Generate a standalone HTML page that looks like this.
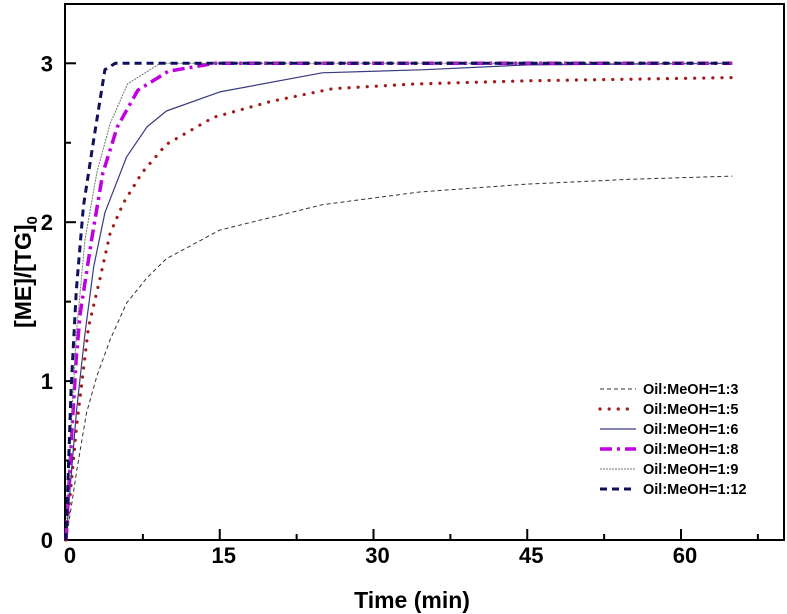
<!DOCTYPE html>
<html><head><meta charset="utf-8"><style>
html,body{margin:0;padding:0;background:#fff;}
svg{display:block;font-family:"Liberation Sans",Arial,sans-serif;}
</style></head><body>
<svg id="chart" width="787" height="614" viewBox="0 0 787 614" xmlns="http://www.w3.org/2000/svg">
<rect x="65" y="4" width="719" height="536" fill="none" stroke="#000" stroke-width="2"/>
<g id="axes"></g>
<g id="series"></g>
<g id="legend"></g>
<text x="412" y="608" text-anchor="middle" font-size="23" font-weight="bold">Time (min)</text>
<text transform="translate(31,272) rotate(-90)" text-anchor="middle" font-size="23" font-weight="bold">[ME]/[TG]<tspan font-size="15" dy="6">0</tspan></text>
</svg>
<script>
const xTicks = [0, 15, 30, 45, 60];
const xMinor = [7.5, 22.5, 37.5, 52.5, 67.5];
const yTicks = [0, 1, 2, 3];
const yMinor = [0.5, 1.5, 2.5];
const seriesNames = ["Oil:MeOH=1:3","Oil:MeOH=1:5","Oil:MeOH=1:6","Oil:MeOH=1:8","Oil:MeOH=1:9","Oil:MeOH=1:12"];
const t13 = [0,0.5,1,2,3,4.3,5.9,7.9,9.8,15,25,34.5,45,55,65];
const v13 = [0,0.2,0.42,0.8,1.03,1.26,1.49,1.65,1.77,1.95,2.11,2.19,2.24,2.27,2.29];
const t15 = [0,0.5,1,2.2,3.3,4.3,5.6,7.4,9.8,14.4,20,26,34,45,65];
const v15 = [0,0.35,0.7,1.34,1.64,1.93,2.12,2.31,2.49,2.66,2.76,2.84,2.87,2.89,2.91];
const t16 = [0,0.5,1,1.85,2.7,3.8,5.9,7.9,9.8,15,25,35,45,65];
const v16 = [0,0.4,0.8,1.3,1.72,2.06,2.41,2.6,2.7,2.82,2.94,2.96,2.99,3.0];
const t18 = [0,0.5,1,1.4,2.5,3.6,5,7,10,14.5,65];
const v18 = [0,0.6,1.15,1.43,1.89,2.31,2.6,2.83,2.95,3.0,3.0];
const t19 = [0,0.5,1,1.4,1.85,3,4.3,6,9.2,65];
const v19 = [0,0.7,1.3,1.57,1.89,2.31,2.62,2.87,3.0,3.0];
const t112 = [0,0.5,1,1.7,2.7,3.8,4.8,65];
const v112 = [0,0.95,1.57,2.1,2.52,2.96,3.0,3.0];

const NS = "http://www.w3.org/2000/svg";
const X0 = 66, XS = 10.25, Y0 = 540, YS = 158.9;
function xs(v){return X0 + v*XS;}
function ys(v){return Y0 - v*YS;}
function mk(tag, attrs, parent){const e=document.createElementNS(NS,tag);for(const k in attrs)e.setAttribute(k,attrs[k]);parent.appendChild(e);return e;}
const axes = document.getElementById('axes');
xTicks.forEach(t=>{
  const l = mk('line',{x1:xs(t),x2:xs(t),y1:540,y2:529,stroke:'#000','stroke-width':2},axes);
  
  
  const tx = mk('text',{x:xs(t)+4,y:563,'text-anchor':'middle','font-size':22,'font-weight':'bold'},axes);
  tx.textContent = t;
  
  
});
xMinor.forEach(t=>{
  const l = mk('line',{x1:xs(t),x2:xs(t),y1:540,y2:534,stroke:'#000','stroke-width':2},axes);
  
  
});
yTicks.forEach(v=>{
  const l = mk('line',{x1:65,x2:76,y1:ys(v),y2:ys(v),stroke:'#000','stroke-width':2},axes);
  
  
  const tx = mk('text',{x:53,y:ys(v)+8,'text-anchor':'end','font-size':22,'font-weight':'bold'},axes);
  tx.textContent = v;
  
  
});
yMinor.forEach(v=>{
  const l = mk('line',{x1:65,x2:71,y1:ys(v),y2:ys(v),stroke:'#000','stroke-width':2},axes);
  
  
});
const styles = [
  {stroke:'#333',w:1,dash:'4 3',cap:'butt'},
  {stroke:'#a31c1c',w:3.2,dash:'0.1 9',cap:'round'},
  {stroke:'#3a3a80',w:1.2,dash:'',cap:'butt'},
  {stroke:'#c000e0',w:3.5,dash:'12 5 3 5',cap:'butt'},
  {stroke:'#6a7a6a',w:1,dash:'2 1',cap:'butt'},
  {stroke:'#10105e',w:3,dash:'7 5',cap:'butt'}
];
const data = [[t13,v13],[t15,v15],[t16,v16],[t18,v18],[t19,v19],[t112,v112]];
const sg = document.getElementById('series');
const lg = document.getElementById('legend');
data.forEach((d,i)=>{
  const pts = d[0].map((t,j)=>xs(t).toFixed(1)+','+ys(d[1][j]).toFixed(1)).join(' ');
  const s = styles[i];
  const p = mk('polyline',{points:pts,fill:'none',stroke:s.stroke,'stroke-width':s.w,'stroke-dasharray':s.dash,'stroke-linecap':s.cap,'stroke-linejoin':'round'},sg);
  
  
  const y = 389 + i*20;
  const ll = mk('line',{x1:600,x2:636,y1:y,y2:y,stroke:s.stroke,'stroke-width':s.w,'stroke-dasharray':s.dash,'stroke-linecap':s.cap},lg);
  
  
  const tx = mk('text',{x:643,y:y+5,'font-size':14.5,'font-weight':'bold'},lg);
  tx.textContent = seriesNames[i];
  
  
});
</script>
</body></html>
